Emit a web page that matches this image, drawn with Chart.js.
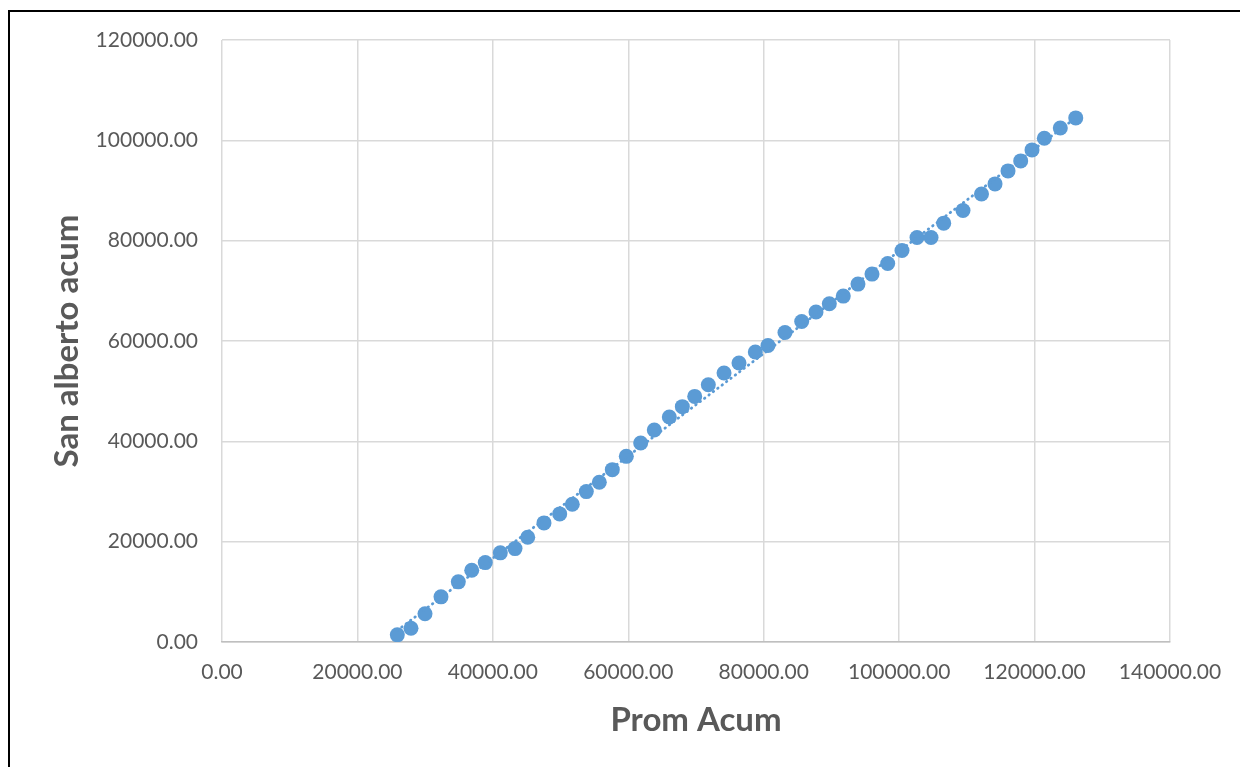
<!DOCTYPE html>
<html>
<head>
<meta charset="utf-8">
<script src="https://cdn.jsdelivr.net/npm/chart.js@4.4.1/dist/chart.umd.min.js"></script>
<style>
  html, body { margin: 0; padding: 0; background: #ffffff; overflow: hidden; }
  #wrap { position: relative; width: 1240px; height: 767px; }
  #frame { position: absolute; left: 8px; top: 10px; width: 1400px; height: 900px; border: 2px solid #000; box-sizing: border-box; pointer-events: none; }
  canvas { position: absolute; left: 0; top: 0; }
</style>
</head>
<body>
<div id="wrap">
  <canvas id="chart" width="1240" height="767"></canvas>
  <div id="frame"></div>
</div>
<script>
// Accumulated values: average (x) vs. San Alberto (y)
const promAcum = [
  25890, 27910, 29980, 32340, 34900, 36880, 38880, 41100, 43270, 45150,
  47550, 49870, 51730, 53800, 55720, 57640, 59710, 61830, 63840, 66060,
  67980, 69810, 71820, 74140, 76350, 78760, 80630, 83140, 85610, 87720,
  89690, 91750, 93920, 95990, 98310, 100420, 102640, 104710, 106580, 109430,
  112160, 114160, 116080, 117950, 119620, 121440, 123800, 126080
];
const sanAlbertoAcum = [
  1430, 2750, 5620, 9000, 11990, 14300, 15830, 17770, 18620, 20870,
  23740, 25530, 27450, 29980, 31830, 34360, 37010, 39680, 42260, 44850,
  46910, 48960, 51290, 53620, 55610, 57800, 59110, 61700, 63890, 65770,
  67420, 68950, 71340, 73340, 75450, 78040, 80620, 80620, 83490, 86000,
  89290, 91320, 93910, 95900, 98090, 100420, 102470, 104470
];
const xTickValues = [0, 20000, 40000, 60000, 80000, 100000, 120000, 140000];
const yTickValues = [0, 20000, 40000, 60000, 80000, 100000, 120000];

// Least-squares linear trendline across the data range
function linearFit(xs, ys) {
  const n = xs.length;
  let sx = 0, sy = 0, sxx = 0, sxy = 0;
  for (let i = 0; i < n; i++) { sx += xs[i]; sy += ys[i]; sxx += xs[i] * xs[i]; sxy += xs[i] * ys[i]; }
  const m = (n * sxy - sx * sy) / (n * sxx - sx * sx);
  const b = (sy - m * sx) / n;
  return { m, b };
}
const fit = linearFit(promAcum, sanAlbertoAcum);
const xMin = Math.min(...promAcum), xMax = Math.max(...promAcum);
const trendPoints = [
  { x: xMin, y: fit.m * xMin + fit.b },
  { x: xMax, y: fit.m * xMax + fit.b }
];
const points = promAcum.map((x, i) => ({ x, y: sanAlbertoAcum[i] }));

const BLUE = '#5B9BD5';
const TEXT = '#595959';
const FONT = 'Lato, "Open Sans", sans-serif';

new Chart(document.getElementById('chart'), {
  type: 'scatter',
  data: {
    datasets: [
      {
        type: 'line',
        data: trendPoints,
        borderColor: BLUE,
        borderWidth: 2.8,
        borderDash: [0.5, 5],
        borderCapStyle: 'round',
        pointRadius: 0,
        fill: false
      },
      {
        data: points,
        backgroundColor: BLUE,
        borderColor: BLUE,
        borderWidth: 0,
        pointRadius: 7.5,
        pointHoverRadius: 7.5
      }
    ]
  },
  options: {
    responsive: false,
    devicePixelRatio: 1,
    animation: false,
    layout: { padding: { top: 40, right: 70, left: 0, bottom: 0 } },
    plugins: { legend: { display: false }, tooltip: { enabled: false } },
    scales: {
      x: {
        type: 'linear',
        min: 0, max: 140000,
        afterBuildTicks: (s) => { s.ticks = xTickValues.map(v => ({ value: v })); },
        afterFit: (s) => { s.height = 125; },
        grid: { color: '#d9d9d9', lineWidth: 1.5, drawTicks: false },
        border: { color: '#bfbfbf', width: 1.5 },
        ticks: {
          padding: 18,
          color: TEXT,
          font: { family: FONT, size: 21 },
          maxRotation: 0,
          callback: (v) => Number(v).toFixed(2)
        },
        title: {
          display: true,
          text: 'Prom Acum',
          color: TEXT,
          font: { family: FONT, size: 33, weight: 'bold' },
          padding: { top: 0, bottom: 27 }
        }
      },
      y: {
        type: 'linear',
        min: 0, max: 120000,
        afterBuildTicks: (s) => { s.ticks = yTickValues.map(v => ({ value: v })); },
        afterFit: (s) => { s.width = 222; },
        grid: { color: '#d9d9d9', lineWidth: 1.5, drawTicks: false },
        border: { display: false },
        ticks: {
          padding: 24,
          color: TEXT,
          font: { family: FONT, size: 21 },
          callback: (v) => Number(v).toFixed(2)
        },
        title: {
          display: true,
          text: 'San alberto acum',
          color: TEXT,
          font: { family: FONT, size: 33, weight: 'bold' },
          padding: { top: 48, bottom: 0 }
        }
      }
    }
  }
});
</script>
</body>
</html>
